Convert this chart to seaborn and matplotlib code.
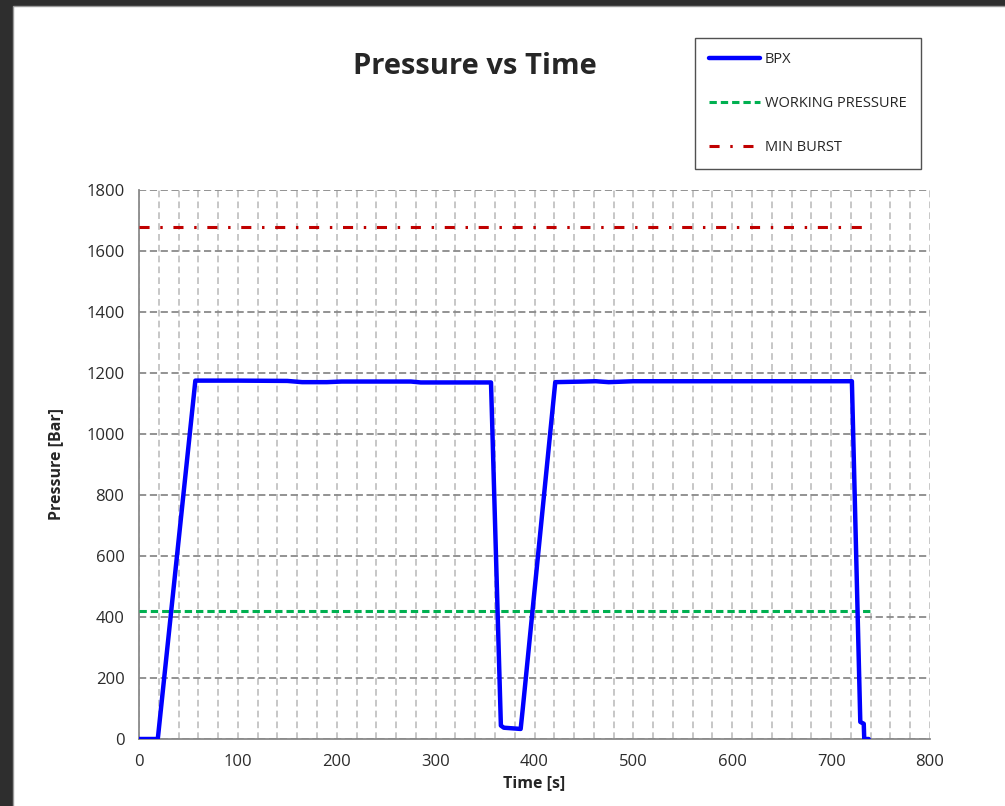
import matplotlib
matplotlib.use('Agg')
import matplotlib.pyplot as plt
from matplotlib.lines import Line2D
from matplotlib.patches import Rectangle
import seaborn as sns

# BPX pressure trace
time_s = [0, 19, 57, 100, 150, 165, 190, 205, 275, 285, 356,
          366, 369, 386, 388, 421, 450, 462, 475, 500, 600, 721,
          729.5, 733, 733.5, 738]
bpx_bar = [0, 0, 1175, 1175, 1174, 1170, 1170, 1172, 1172, 1169, 1169,
           44, 37, 33, 95, 1170, 1172, 1173, 1170, 1173, 1173, 1173,
           56, 50, 0, 0]

# reference limits
limit_time = [0, 740]
working_pressure = [420, 420]
min_burst = [1680, 1680]

sns.set_style('white')
plt.rcParams['font.family'] = ['Open Sans', 'DejaVu Sans']

fig = plt.figure(figsize=(10.05, 8.06), dpi=100)
fig.patch.set_facecolor('#2e2e2e')
fig.add_artist(Rectangle((13 / 1005, -0.01), 1.0, 1.01 - 6 / 806,
                         transform=fig.transFigure, facecolor='white',
                         edgecolor='#9a9a9a', lw=1, zorder=-5))

ax = fig.add_axes([139 / 1005, 67 / 806, 791 / 1005, 549 / 806])

sns.lineplot(x=time_s, y=bpx_bar, color='#0000ff', lw=3.2, ax=ax,
             errorbar=None, zorder=5)
sns.lineplot(x=limit_time, y=working_pressure, color='#00b050', lw=2.2,
             ax=ax, errorbar=None, zorder=4)
ax.lines[-1].set_linestyle((0, (2.4, 1.3)))
sns.lineplot(x=limit_time, y=min_burst, color='#c00000', lw=2.2, ax=ax,
             errorbar=None, zorder=4)
ax.lines[-1].set_linestyle((0, (3.3, 3.5, 0.8, 3.5)))

ax.set_xlim(0, 800)
ax.set_ylim(0, 1800)
ax.set_xticks(range(0, 801, 100))
ax.set_xticks(range(0, 801, 20), minor=True)
ax.set_yticks(range(0, 1801, 200))
ax.xaxis.remove_overlapping_locs = False

ax.grid(axis='x', which='minor', color='#bdbdbd', lw=1.2,
        linestyle=(0, (4, 2.5)))
ax.grid(axis='y', which='major', color='#8a8a8a', lw=1.3,
        linestyle=(0, (4, 2)))
ax.set_axisbelow(True)

for side in ['top', 'right']:
    ax.spines[side].set_visible(False)
for side in ['left', 'bottom']:
    ax.spines[side].set_color('#8a8a8a')
    ax.spines[side].set_linewidth(1.3)

ax.tick_params(which='major', direction='out', length=4.5, width=1.2,
               color='#8a8a8a', labelsize=12, labelcolor='#2b2b2b', pad=6)
ax.tick_params(which='minor', length=0)

ax.set_xlabel('Time [s]', fontsize=11.5, fontweight='bold', labelpad=4)
ax.set_ylabel('Pressure [Bar]', fontsize=11.5, fontweight='bold',
              labelpad=16)

fig.text(475 / 1005, 1 - 67 / 806, 'Pressure vs Time', fontsize=21,
         fontweight='bold', ha='center', va='center')

handles = [
    Line2D([], [], color='#0000ff', lw=3.2),
    Line2D([], [], color='#00b050', lw=2.2, linestyle=(0, (2.4, 1.3))),
    Line2D([], [], color='#c00000', lw=2.2,
           linestyle=(0, (3.3, 3.5, 0.8, 3.5))),
]
labels = ['BPX', 'WORKING PRESSURE', 'MIN BURST']
leg = ax.legend(handles, labels, loc='upper left',
                bbox_to_anchor=(695 / 1005, 1 - 38 / 806),
                bbox_transform=fig.transFigure, fancybox=False,
                frameon=True, edgecolor='#262626', fontsize=10.5,
                handlelength=3.5, handletextpad=0.35, labelspacing=2.0,
                borderpad=0.95, borderaxespad=0)
leg.get_frame().set_linewidth(1.0)

fig.savefig('out.png', dpi=100, facecolor=fig.get_facecolor())
